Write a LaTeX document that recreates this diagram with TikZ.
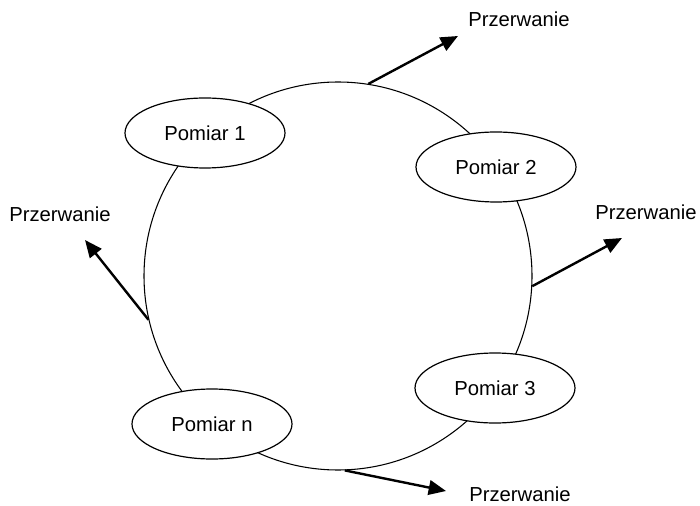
\documentclass[tikz,border=0pt]{standalone}
\usepackage{fontspec}
\setmainfont{Liberation Sans}
\usetikzlibrary{arrows.meta,shapes.geometric}

\begin{document}
\begin{tikzpicture}[x=0.75pt,y=-0.75pt,
    tekst/.style={font=\fontsize{15.2}{18}\selectfont},
    pomiar/.style={ellipse,draw,fill=white,line width=0.9pt,minimum width=120pt,minimum height=52.5pt,inner sep=0pt,tekst},
    przerwanie/.style={-{Triangle[length=13pt,width=11pt]},line width=1.8pt}]
            \useasboundingbox (0,0) rectangle (700,506);

            %the ring of measurements, ellipses sit on top of it
            \node[circle,draw,line width=0.8pt,minimum size=291pt,inner sep=0pt] (ring) at (338,276) {};
            \foreach \n/\x/\y/\t in {p1/205/133/1, p2/496/167/2, p3/495/388/3, pn/212/424/n}
                \node[pomiar] (\n) at (\x,\y) {Pomiar \t};

            %interruptions: arrow ends and labels placed by hand
            \foreach \i/\x/\y in {1/458/36, 2/622/238, 3/446/491, 4/85/240} \coordinate (k\i) at (\x,\y);
            \node[tekst] (l1) at (519,19) {Przerwanie};
            \node[tekst] (l2) at (646,212) {Przerwanie};
            \node[tekst] (l3) at (520,494) {Przerwanie};
            \node[tekst] (l4) at (60,214) {Przerwanie};

            %arrows leave the ring
            \foreach \i/\a in {1/81.4, 2/-3.6, 3/-88.5, 4/193.6} \draw[przerwanie] (ring.\a) -- (k\i);
        \end{tikzpicture}
\end{document}
